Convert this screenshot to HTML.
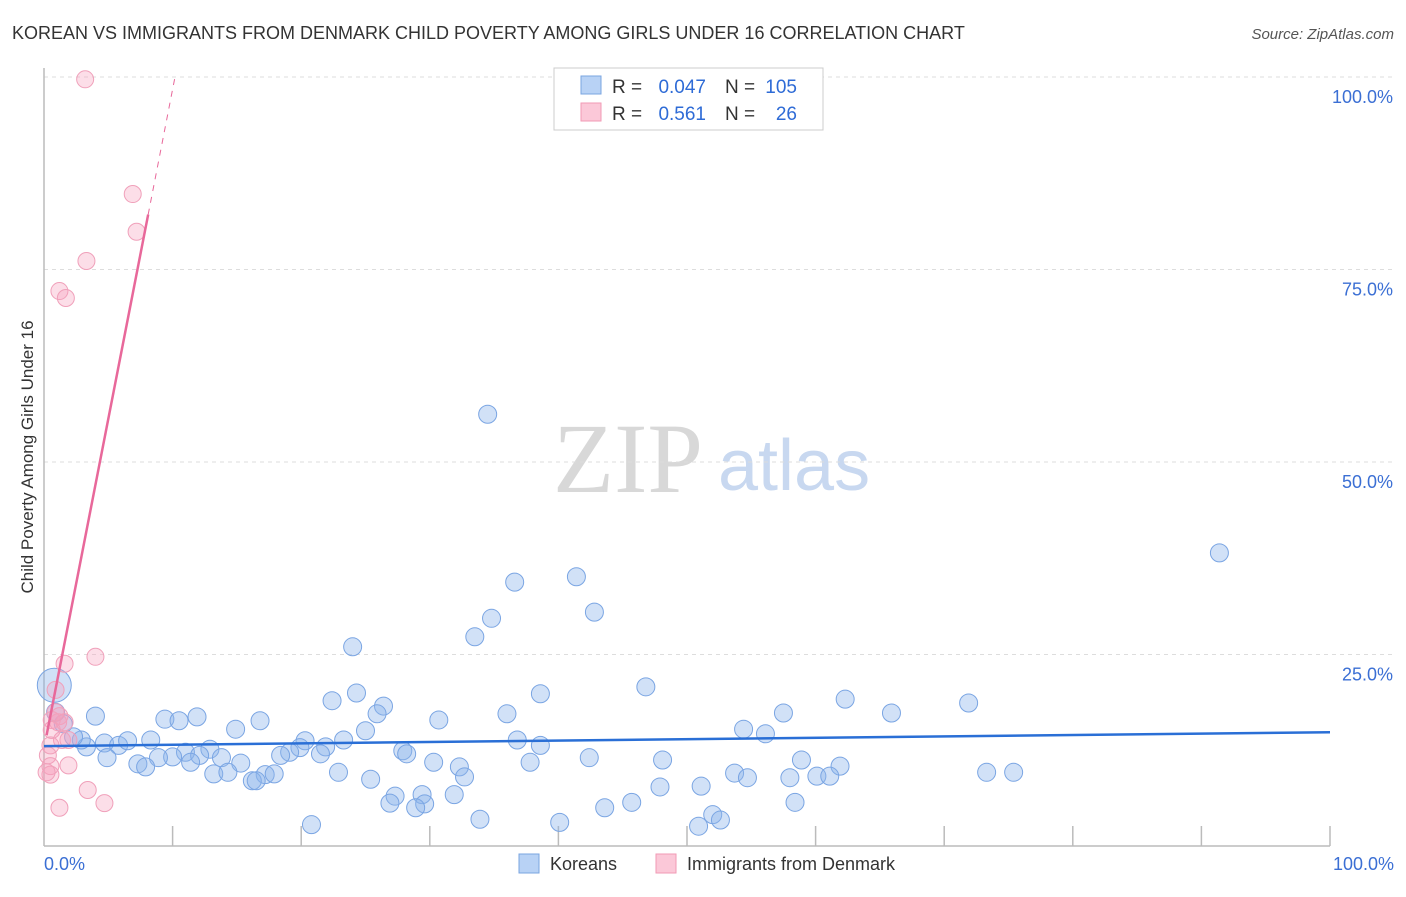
<!DOCTYPE html>
<html><head><meta charset="utf-8"><style>
body{margin:0;background:#fff;font-family:"Liberation Sans",sans-serif}
</style></head><body>
<svg id="chart" width="1406" height="892" xmlns="http://www.w3.org/2000/svg" font-family="Liberation Sans, sans-serif">
<text x="12" y="39" font-size="18" fill="#333">KOREAN VS IMMIGRANTS FROM DENMARK CHILD POVERTY AMONG GIRLS UNDER 16 CORRELATION CHART</text>
<text x="1394" y="39" font-size="15" fill="#555" font-style="italic" text-anchor="end">Source: ZipAtlas.com</text>
<g>
<text x="553" y="492" font-size="100" style="font-family:'Liberation Serif',serif" fill="#d8d8d8">ZIP</text>
<text x="718" y="490" font-size="72" fill="#c8d8f0">atlas</text>
</g>
<g id="grid"></g>
<g id="axes"></g>
<g id="pts"></g>
<g id="lines"></g>
<text transform="translate(33,457) rotate(-90)" font-size="17" fill="#333" text-anchor="middle">Child Poverty Among Girls Under 16</text>
<g>
<rect x="554" y="68" width="269" height="62" fill="#fff" stroke="#ccc"/>
<rect x="581" y="76" width="20" height="18" fill="#b8d2f5" stroke="#7aa5e0"/>
<rect x="581" y="103" width="20" height="18" fill="#fbc8d8" stroke="#f29ab5"/>
<text x="612" y="93" font-size="19" fill="#333">R =</text>
<text x="706" y="93" font-size="19" fill="#2e6bd6" text-anchor="end">0.047</text>
<text x="725" y="93" font-size="19" fill="#333">N =</text>
<text x="797" y="93" font-size="19" fill="#2e6bd6" text-anchor="end">105</text>
<text x="612" y="120" font-size="19" fill="#333">R =</text>
<text x="706" y="120" font-size="19" fill="#2e6bd6" text-anchor="end">0.561</text>
<text x="725" y="120" font-size="19" fill="#333">N =</text>
<text x="797" y="120" font-size="19" fill="#2e6bd6" text-anchor="end">26</text>
</g>
<g>
<rect x="519" y="854" width="20" height="19" fill="#b8d2f5" stroke="#7aa5e0"/>
<text x="550" y="870" font-size="18" fill="#333">Koreans</text>
<rect x="656" y="854" width="20" height="19" fill="#fbc8d8" stroke="#f29ab5"/>
<text x="687" y="870" font-size="18" fill="#333">Immigrants from Denmark</text>
</g>
</svg>
<script>
const blueX=[34.5,91.4,41.4,36.6,42.8,34.8,33.5,24.0,46.8,24.3,38.6,62.3,71.9,22.4,26.4,65.9,57.5,36.0,25.9,4.0,9.4,11.9,10.5,16.8,30.7,14.9,54.4,56.1,25.0,23.3,36.8,38.6,20.3,21.9,8.3,4.7,5.8,6.5,3.3,2.9,2.3,1.5,0.9,0.8,19.9,19.1,18.4,21.5,27.9,28.2,11.0,12.9,12.1,10.0,8.9,13.8,4.9,7.3,7.9,11.4,15.3,42.4,48.1,58.9,61.9,30.3,32.3,37.8,13.2,14.3,17.2,17.9,22.9,32.7,25.4,16.2,16.5,53.7,54.7,58.0,60.1,61.1,73.3,75.4,47.9,51.1,29.4,31.9,27.3,26.9,29.6,28.9,43.6,45.7,58.4,52.0,52.6,50.9,33.9,40.1,20.8];
const blueY=[56.2,38.2,35.1,34.4,30.5,29.7,27.3,26.0,20.8,20.0,19.9,19.2,18.7,19.0,18.3,17.4,17.4,17.3,17.3,17.0,16.6,16.9,16.4,16.4,16.5,15.3,15.3,14.7,15.1,13.9,13.9,13.2,13.8,13.0,13.9,13.5,13.2,13.8,13.0,13.9,14.3,16.0,17.5,21.0,12.9,12.3,11.9,12.1,12.5,12.1,12.3,12.7,11.9,11.7,11.6,11.6,11.6,10.8,10.4,11.0,10.9,11.6,11.3,11.3,10.5,11.0,10.4,11.0,9.5,9.7,9.4,9.5,9.7,9.1,8.8,8.6,8.6,9.6,9.0,9.0,9.2,9.2,9.7,9.7,7.8,7.9,6.8,6.8,6.6,5.7,5.6,5.1,5.1,5.8,5.8,4.2,3.5,2.7,3.6,3.2,2.9];
const pinkX=[3.2,6.9,7.2,3.3,1.2,1.7,4.0,1.6,0.9,1.2,1.1,0.6,1.4,1.9,0.3,0.5,0.5,0.2,1.9,3.4,4.7,1.2,0.6,1.6,0.5,0.9];
const pinkY=[99.7,84.8,79.9,76.1,72.2,71.3,24.7,23.8,20.4,17.0,16.2,16.5,13.9,13.9,11.9,10.5,9.4,9.7,10.6,7.4,5.7,5.1,15.2,16.2,13.2,17.5];
const blueTrend=[13.1,14.9];
const pinkTrend=[12.8,8.56];
const yTicks=[25,50,75,100];
const yTickLabels=["25.0%","50.0%","75.0%","100.0%"];
const xs=v=>44+v*12.86, ys=v=>847-v*7.7;
const NS="http://www.w3.org/2000/svg";
function mk(p,tag,a){const e=document.createElementNS(NS,tag);for(const k in a)e.setAttribute(k,a[k]);p.appendChild(e);return e;}
const grid=document.getElementById('grid'),axes=document.getElementById('axes'),pts=document.getElementById('pts'),lines=document.getElementById('lines');
yTicks.forEach((t,i)=>{
 const l=mk(grid,'line',{x1:44,x2:1394,y1:ys(t),y2:ys(t),stroke:'#ddd','stroke-dasharray':'4,4'});
 
 
 const tx=mk(grid,'text',{x:1393,y:ys(t)+26,'font-size':18,fill:'#3b6fd4','text-anchor':'end'});
 tx.textContent=yTickLabels[i];
 
 
});
mk(axes,'line',{x1:44,x2:44,y1:68,y2:846,stroke:'#bbb','stroke-width':1.5});
mk(axes,'line',{x1:44,x2:1330,y1:846,y2:846,stroke:'#bbb','stroke-width':1.5});
for(let k=1;k<=10;k++){mk(axes,'line',{x1:xs(k*10),x2:xs(k*10),y1:826,y2:846,stroke:'#bbb','stroke-width':1.5});}
const x0=mk(axes,'text',{x:44,y:870,'font-size':18,fill:'#3b6fd4'});x0.textContent='0.0%';


const x1=mk(axes,'text',{x:1394,y:870,'font-size':18,fill:'#3b6fd4','text-anchor':'end'});x1.textContent='100.0%';


blueX.forEach((v,i)=>{
 const c=mk(pts,'circle',{cx:xs(v),cy:ys(blueY[i]),r:(i==43?17:9),fill:'rgba(140,180,235,0.4)',stroke:'#7aa5e3','stroke-width':1});
 
 
});
pinkX.forEach((v,i)=>{
 const c=mk(pts,'circle',{cx:xs(v),cy:ys(pinkY[i]),r:8.5,fill:'rgba(245,160,190,0.35)',stroke:'#f0a0ba','stroke-width':1});
 
 
});
const bl=mk(lines,'line',{x1:xs(0),y1:ys(blueTrend[0]),x2:xs(100),y2:ys(blueTrend[1]),stroke:'#2a6fd6','stroke-width':2.5});


const pf=x=>pinkTrend[0]+pinkTrend[1]*x;
const pl=mk(lines,'line',{x1:xs(0.2),y1:ys(pf(0.2)),x2:xs(8.1),y2:ys(pf(8.1)),stroke:'#e8689a','stroke-width':2.5});


const pd=mk(lines,'line',{x1:xs(8.1),y1:ys(pf(8.1)),x2:xs(10.2),y2:ys(pf(10.2)),stroke:'#e8689a','stroke-width':1,'stroke-dasharray':'6,6'});


</script>
</body></html>
